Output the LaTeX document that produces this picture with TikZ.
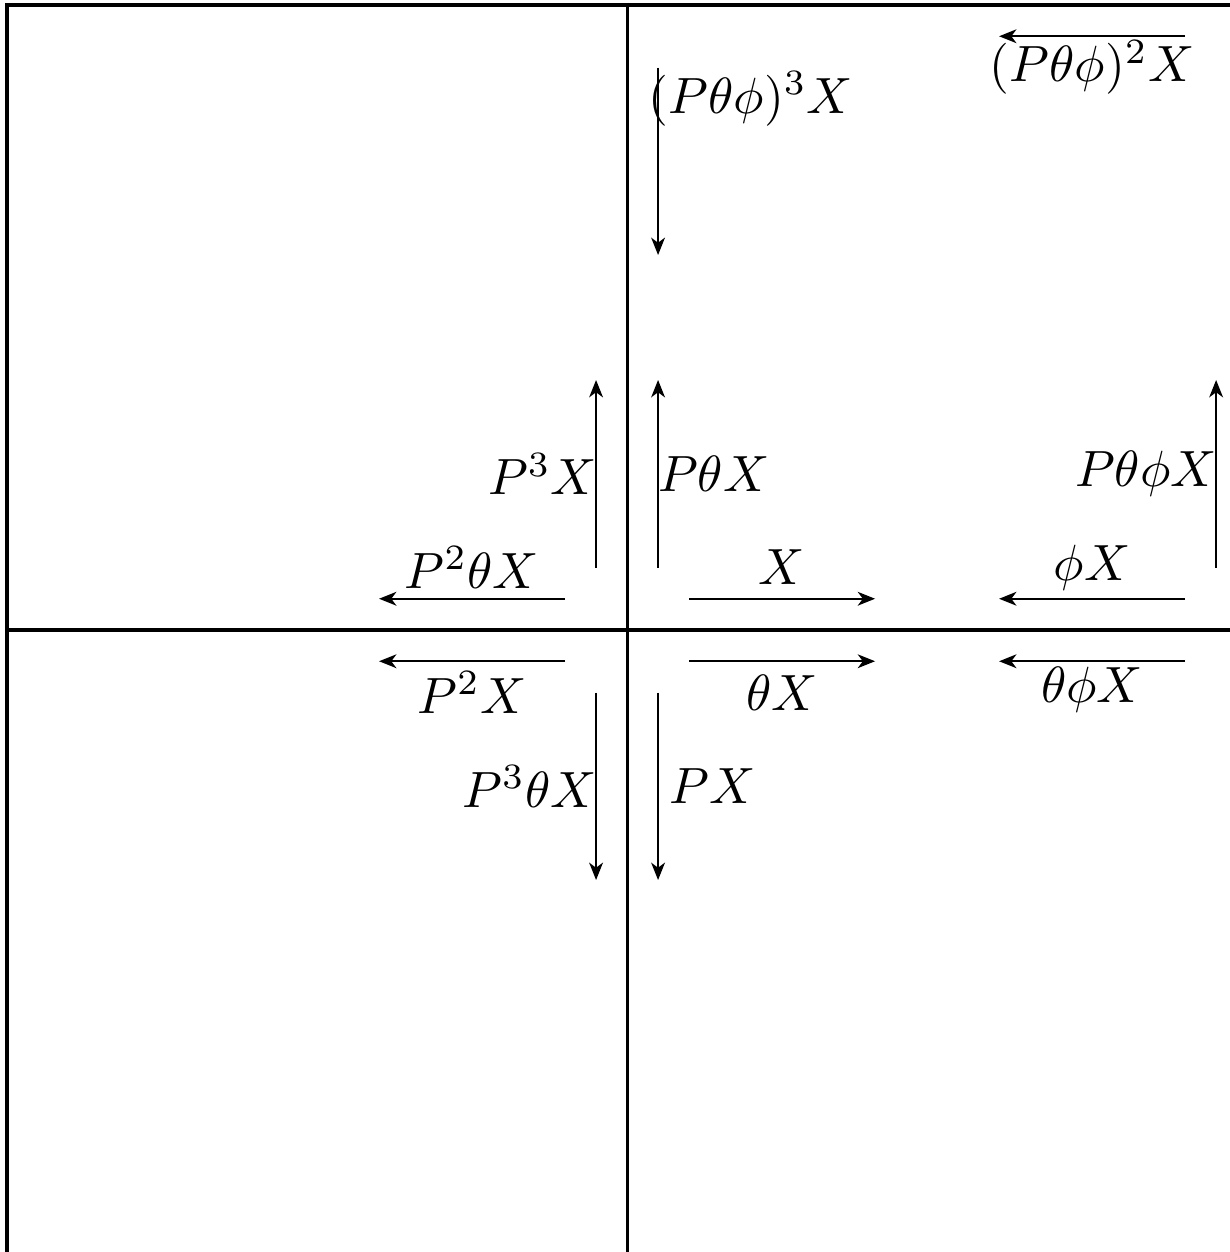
\documentclass[tikz,border=0pt]{standalone}
\usetikzlibrary{arrows.meta}

\begin{document}
\begin{tikzpicture}[
      x=0.4276cm, y=0.431cm,
      axis/.style={
        draw=black,
        line width=0.6pt
      },
      arr/.style={
        -{Stealth[length=3.4pt,width=2.7pt,inset=1pt]},
        line width=0.45pt,
        draw=black
      },
      lab/.style={
        inner sep=0pt
      }
    ]
    \useasboundingbox (-10.113,-9.952) rectangle (9.71,10.08);

    % Frame and axes
    \coordinate (tl) at (-10,10);
    \coordinate (tr) at (9.75,10);
    \coordinate (bl) at (-10,-10);
    \coordinate (top) at (0,10);
    \coordinate (bot) at (0,-10);
    \coordinate (west) at (-10,0);
    \coordinate (east) at (9.75,0);

    \draw[axis] (bl) -- (tl) -- (tr);
    \draw[axis] (top) -- (bot);
    \draw[axis] (west) -- (east);

    % Horizontal arrows
    \coordinate (x0) at (1,0.5);   \coordinate (x1) at (4,0.5);
    \coordinate (tx0) at (1,-0.5); \coordinate (tx1) at (4,-0.5);
    \coordinate (ptx0) at (-1,0.5);  \coordinate (ptx1) at (-4,0.5);
    \coordinate (ppx0) at (-1,-0.5); \coordinate (ppx1) at (-4,-0.5);
    \coordinate (fx0) at (9,0.5);    \coordinate (fx1) at (6,0.5);
    \coordinate (tfx0) at (9,-0.5);  \coordinate (tfx1) at (6,-0.5);
    \coordinate (sq0) at (9,9.5);    \coordinate (sq1) at (6,9.5);

    \draw[arr] (x0) -- (x1);
    \draw[arr] (tx0) -- (tx1);
    \draw[arr] (ptx0) -- (ptx1);
    \draw[arr] (ppx0) -- (ppx1);
    \draw[arr] (fx0) -- (fx1);
    \draw[arr] (tfx0) -- (tfx1);
    \draw[arr] (sq0) -- (sq1);

    % Vertical arrows
    \coordinate (pppx0) at (-0.5,1);  \coordinate (pppx1) at (-0.5,4);
    \coordinate (pt0) at (0.5,1);     \coordinate (pt1) at (0.5,4);
    \coordinate (ptf0) at (9.5,1);    \coordinate (ptf1) at (9.5,4);
    \coordinate (pppt0) at (-0.5,-1); \coordinate (pppt1) at (-0.5,-4);
    \coordinate (px0) at (0.5,-1);    \coordinate (px1) at (0.5,-4);
    \coordinate (cu0) at (0.5,9);     \coordinate (cu1) at (0.5,6);

    \draw[arr] (pppx0) -- (pppx1);
    \draw[arr] (pt0) -- (pt1);
    \draw[arr] (ptf0) -- (ptf1);
    \draw[arr] (pppt0) -- (pppt1);
    \draw[arr] (px0) -- (px1);
    \draw[arr] (cu0) -- (cu1);

    % Labels
    \node[lab] (lx) at (2.5,1) {$X$};
    \node[lab] (ltx) at (2.5,-1) {$\theta X$};
    \node[lab] (lptx) at (-2.5,1) {$P^2\theta X$};
    \node[lab] (lppx) at (-2.5,-1) {$P^2X$};
    \node[lab] (lfx) at (7.5,1) {$\phi X$};
    \node[lab] (ltfx) at (7.5,-0.95) {$\theta\phi X$};
    \node[lab] (lsq) at (7.5,9) {$(P\theta\phi)^2X$};
    \node[lab] (lpppx) at (-1.36,2.5) {$P^3X$};
    \node[lab] (lpt) at (1.4,2.5) {$P\theta X$};
    \node[lab] (lptf) at (8.37,2.5) {$P\theta\phi X$};
    \node[lab] (lpppt) at (-1.57,-2.5) {$P^3\theta X$};
    \node[lab] (lpx) at (1.38,-2.5) {$PX$};
    \node[lab] (lcu) at (2,8.5) {$(P\theta\phi)^3X$};

\end{tikzpicture}
\end{document}
